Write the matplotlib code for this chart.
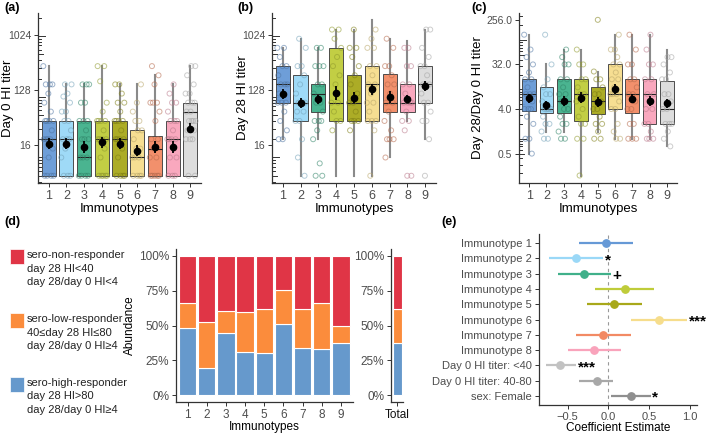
import numpy as np
import matplotlib
matplotlib.use("Agg")
import matplotlib.pyplot as plt
import matplotlib.transforms as mtransforms
from matplotlib.patches import Rectangle
from matplotlib.ticker import NullLocator, FixedLocator

plt.rcParams['font.family'] = ['Liberation Sans', 'DejaVu Sans']

W, H = 709, 437

# ---------------- data ----------------
immunotypes = [1, 2, 3, 4, 5, 6, 7, 8, 9]
group_colors = ["#6699d6", "#9ad8f7", "#40b08a", "#bfcc3a", "#a8a81a",
                "#f6dd8c", "#f28a64", "#f9a3bb", "#dcdcdc"]

# panel (a) Day 0 HI titer
day0_points = [
    [320, 160, 160, 160, 113, 80, 57, 40, 40, 40, 40, 28, 20, 20, 20, 20, 14, 10, 5, 5, 5, 5],
    [160, 160, 113, 101, 80, 57, 57, 40, 40, 28, 20, 20, 20, 14, 10, 5, 5, 5],
    [160, 160, 160, 80, 80, 40, 40, 40, 28, 20, 20, 20, 10, 10, 10, 5, 5, 5, 5],
    [320, 320, 180, 80, 57, 40, 40, 40, 40, 28, 20, 20, 20, 20, 14, 10, 5, 5, 5, 5, 5],
    [160, 160, 113, 80, 80, 57, 40, 40, 40, 40, 28, 20, 20, 20, 20, 14, 10, 5, 5, 5, 5],
    [160, 80, 57, 40, 40, 28, 28, 20, 14, 14, 10, 10, 10, 5, 5, 5, 5],
    [320, 226, 160, 80, 80, 80, 57, 40, 20, 20, 14, 10, 10, 5, 5, 5, 5, 5],
    [160, 113, 80, 80, 57, 40, 40, 40, 28, 20, 20, 20, 20, 14, 10, 10, 5, 5, 5],
    [320, 320, 226, 160, 113, 113, 80, 80, 80, 57, 57, 40, 40, 40, 40, 28, 28, 20, 20, 20, 5, 5],
]
day0_whislo = [5, 5, 5, 5, 5, 5, 5, 5, 5]
day0_q1 = [5, 5, 5, 5, 5, 5, 5, 5, 5]
day0_med = [20, 20, 10, 20, 20, 10, 14, 20, 57]
day0_q3 = [40, 40, 40, 40, 40, 28, 23, 40, 80]
day0_whishi = [320, 160, 160, 320, 160, 160, 226, 160, 320]
day0_mean = [17, 17, 15, 18, 17, 13, 15, 15, 30]
day0_lo = [14, 14, 12, 14.5, 14, 10.5, 12, 12, 25]
day0_hi = [21, 21, 19, 22, 21, 16, 19, 18.5, 37]

# panel (b) Day 28 HI titer
day28_points = [
    [640, 640, 453, 320, 320, 226, 160, 160, 160, 113, 113, 80, 80, 80, 57, 40, 28, 20, 20],
    [905, 640, 320, 320, 226, 160, 113, 80, 80, 80, 80, 57, 57, 40, 40, 20, 10, 5],
    [640, 640, 320, 320, 320, 160, 160, 113, 80, 80, 57, 40, 40, 40, 28, 20, 8, 5, 5],
    [1280, 1280, 905, 640, 453, 320, 226, 160, 80, 80, 57, 40, 40, 28],
    [1280, 640, 640, 453, 320, 226, 160, 113, 80, 80, 57, 40, 40, 40, 28],
    [1280, 905, 640, 640, 320, 320, 226, 160, 160, 113, 80, 80, 57, 40, 40, 40, 28, 5],
    [905, 640, 320, 320, 226, 160, 160, 113, 80, 80, 57, 40, 28, 20, 20, 20, 10],
    [640, 640, 320, 320, 160, 160, 113, 80, 80, 80, 80, 57, 40, 40, 28, 5, 5],
    [1280, 1280, 640, 453, 320, 320, 226, 160, 160, 160, 113, 80, 80, 57, 40, 40, 20, 5],
]
day28_whislo = [20, 5, 20, 5, 5, 5, 10, 40, 20]
day28_q1 = [80, 40, 57, 40, 40, 40, 57, 57, 80]
day28_med = [160, 80, 113, 80, 80, 160, 80, 80, 160]
day28_q3 = [320, 226, 160, 640, 226, 320, 240, 160, 320]
day28_whishi = [640, 905, 640, 1280, 1280, 1810, 905, 845, 1280]
day28_mean = [110, 80, 91, 114, 97, 133, 100, 92, 150]
day28_lo = [92, 66, 76, 88, 78, 108, 80, 78, 125]
day28_hi = [132, 97, 108, 150, 120, 164, 126, 108, 180]

# panel (c) Day 28 / Day 0 ratio
ratio_points = [
    [128, 64, 45, 32, 22, 16, 16, 11, 8, 8, 8, 5.7, 4, 4, 4, 2.8, 2, 1, 1, 0.5],
    [128, 32, 16, 11, 8, 8, 5.7, 4, 4, 4, 4, 2.8, 2, 2, 1.4, 1, 1],
    [64, 45, 32, 32, 16, 16, 11, 8, 8, 5.7, 4, 4, 2.8, 2, 2, 1.4, 1, 1],
    [64, 32, 32, 16, 16, 11, 8, 8, 5.7, 4, 2.8, 2, 2, 1, 1, 0.18],
    [256, 23, 16, 16, 11, 8, 8, 5.7, 4, 4, 2.8, 2, 2, 1.4, 1, 1],
    [128, 64, 64, 45, 32, 32, 22, 16, 16, 11, 8, 8, 8, 5.7, 4, 4, 2, 1.4, 1, 1],
    [128, 64, 32, 32, 16, 16, 11, 8, 8, 5.7, 4, 4, 2, 2, 1, 1, 1],
    [128, 64, 32, 32, 16, 16, 8, 8, 5.7, 4, 4, 2, 2, 1.4, 1, 1, 1],
    [45, 45, 32, 22, 16, 16, 8, 8, 5.7, 4, 4, 2, 2, 2, 1.4, 1, 0.7],
]
ratio_whislo = [0.5, 1.4, 1.4, 0.18, 1.4, 1, 1, 1, 0.7]
ratio_q1 = [3.6, 3.3, 3.3, 2.3, 3.1, 4, 3.4, 2, 2]
ratio_med = [8, 4, 5.7, 8, 5.7, 8, 8, 8, 4]
ratio_q3 = [16, 11.3, 16, 16, 11.4, 32, 16, 16, 14.8]
ratio_whishi = [128, 32, 64, 64, 23, 128, 128, 128, 64]
ratio_mean = [6.6, 4.8, 5.8, 6.8, 5.5, 10.2, 6.4, 5.9, 5.2]
ratio_lo = [5.3, 3.9, 4.7, 5.2, 4.4, 8.2, 5.2, 4.7, 4.2]
ratio_hi = [8.2, 5.9, 7.2, 8.9, 6.9, 12.8, 7.9, 7.4, 6.4]

# panel (d) stacked abundance (%)
high_resp = [47.9, 19.2, 44.8, 31.3, 30.4, 51.3, 33.7, 32.8, 37.6]
low_resp = [18.6, 33.6, 15.7, 28.4, 31.3, 24.3, 28.5, 33.7, 12.0]
non_resp = [33.5, 47.2, 39.5, 40.3, 38.3, 24.4, 37.8, 33.5, 50.4]
total_high, total_low, total_non = 37.2, 24.4, 38.4
resp_colors = {"non": "#e03546", "low": "#fb8c3c", "high": "#6699cc"}
legend_lines = {
    "non": ["sero-non-responder", "day 28 HI<40", "day 28/day 0 HI<4"],
    "low": ["sero-low-responder", "40≤day 28 HI≤80", "day 28/day 0 HI≥4"],
    "high": ["sero-high-responder", "day 28 HI>80", "day 28/day 0 HI≥4"],
}

# panel (e) coefficient estimates
coef_terms = ["Immunotype 1", "Immunotype 2", "Immunotype 3", "Immunotype 4",
              "Immunotype 5", "Immunotype 6", "Immunotype 7", "Immunotype 8",
              "Day 0 HI titer: <40", "Day 0 HI titer: 40-80", "sex: Female"]
coef_est = [-0.03, -0.40, -0.30, 0.20, 0.07, 0.62, -0.06, -0.17, -0.59, -0.14, 0.28]
coef_lo = [-0.36, -0.73, -0.62, -0.16, -0.26, 0.28, -0.39, -0.49, -0.76, -0.36, 0.04]
coef_hi = [0.30, -0.06, 0.03, 0.56, 0.42, 0.97, 0.28, 0.16, -0.39, 0.06, 0.52]
coef_sig = ["", "*", "+", "", "", "***", "", "", "***", "", "*"]
coef_colors = group_colors[:8] + ["#c2c2c2", "#a8a8a8", "#8f8f8f"]

# ---------------- helpers ----------------
AX_COL = "#333333"
TICK_COL = "#4d4d4d"


def rect(l, t, r, b):
    return [l / W, 1 - b / H, (r - l) / W, (b - t) / H]


def darker(c, f=0.7):
    from matplotlib.colors import to_rgb
    r, g, b = to_rgb(c)
    return (r * f, g * f, b * f)


def style_axes(ax, fs=8.5):
    for s in ["top", "right"]:
        ax.spines[s].set_visible(False)
    for s in ["left", "bottom"]:
        ax.spines[s].set_color(AX_COL)
        ax.spines[s].set_linewidth(0.9)
    ax.tick_params(length=3, width=0.7, color=AX_COL, labelcolor=TICK_COL,
                   labelsize=fs, pad=2)


def logticks(ax, lo, hi, axw):
    trans = mtransforms.blended_transform_factory(ax.transAxes, ax.transData)
    for k in range(-2, 5):
        for d in range(1, 10):
            v = d * 10.0 ** k
            if lo <= v <= hi:
                L = 7 if d == 1 else (5 if d == 5 else 3)
                ax.plot([0, L / axw], [v, v], transform=trans, color=AX_COL,
                        lw=0.7, clip_on=False, zorder=1)


def box_panel(rect_px, points, whislo, q1, med, q3, whishi, mean, lo, hi,
              ylim, yticks, yticklabels, ylabel, ylabel_right_px, tag, tag_x):
    ax = fig.add_axes(rect(*rect_px))
    axw = rect_px[2] - rect_px[0]
    stats = []
    for i in range(len(immunotypes)):
        stats.append(dict(med=med[i], q1=q1[i], q3=q3[i], whislo=whislo[i],
                          whishi=whishi[i], fliers=[]))
    bp = ax.bxp(stats, positions=immunotypes, widths=0.8, patch_artist=True,
                showcaps=False, showfliers=False,
                boxprops=dict(linewidth=0.7, edgecolor="#444444"),
                medianprops=dict(color="#222222", linewidth=0.8),
                whiskerprops=dict(color="#8a8a8a", linewidth=1.5))
    for patch, c in zip(bp["boxes"], group_colors):
        patch.set_facecolor(c)
        patch.set_alpha(0.95)
        patch.set_zorder(2)
    for w in bp["whiskers"]:
        w.set_zorder(1.5)
    for m in bp["medians"]:
        m.set_zorder(3)
    for gi, (g, pts) in enumerate(zip(immunotypes, points)):
        offs = [((j * 0.618034 + gi * 0.37) % 1 - 0.5) * 0.6 for j in range(len(pts))]
        xs = [g + o for o in offs]
        ax.scatter(xs, pts, s=13, facecolors="none",
                   edgecolors=[darker(group_colors[gi], 0.75)], linewidths=0.7,
                   alpha=0.55, zorder=4)
    mean_a = np.array(mean)
    ax.errorbar(immunotypes, mean_a, yerr=[mean_a - np.array(lo), np.array(hi) - mean_a],
                fmt="o", color="black", ms=4.5, elinewidth=1.3, capsize=0, zorder=5)
    ax.set_yscale("log", base=2)
    ax.set_ylim(*ylim)
    ax.set_xlim(0.4, 9.6)
    ax.yaxis.set_major_locator(FixedLocator(yticks))
    ax.yaxis.set_minor_locator(NullLocator())
    ax.set_yticklabels(yticklabels)
    ax.set_xticks(immunotypes)
    ax.set_xticklabels([str(g) for g in immunotypes])
    style_axes(ax, 9)
    ax.tick_params(axis="y", labelsize=7.5)
    ax.set_xlabel("Immunotypes", fontsize=9.5, labelpad=1)
    ax.set_ylabel(ylabel, fontsize=9.5)
    ax.yaxis.set_label_coords((ylabel_right_px - rect_px[0]) / axw, 0.5)
    logticks(ax, ylim[0], ylim[1], axw)
    fig.text(tag_x / W, 1 - 8 / H, tag, fontsize=9, fontweight="bold", va="center")
    return ax


fig = plt.figure(figsize=(W / 100, H / 100), dpi=100)

box_panel((38, 13, 201, 183), day0_points, day0_whislo, day0_q1, day0_med, day0_q3,
          day0_whishi, day0_mean, day0_lo, day0_hi, (3.8, 2400), [16, 128, 1024],
          ["16", "128", "1024"], "Day 0 HI titer", 14, "(a)", 4)
box_panel((272, 13, 436, 183), day28_points, day28_whislo, day28_q1, day28_med, day28_q3,
          day28_whishi, day28_mean, day28_lo, day28_hi, (3.8, 2400), [16, 128, 1024],
          ["16", "128", "1024"], "Day 28 HI titer", 249, "(b)", 237)
box_panel((519, 13, 677, 183), ratio_points, ratio_whislo, ratio_q1, ratio_med, ratio_q3,
          ratio_whishi, ratio_mean, ratio_lo, ratio_hi, (0.127, 352), [0.5, 4, 32, 256],
          ["0.5", "4.0", "32.0", "256.0"], "Day 28/Day 0 HI titer", 484, "(c)", 471)

# ---------------- panel (d) ----------------
fig.text(4 / W, 1 - 222 / H, "(d)", fontsize=9, fontweight="bold", va="center")
lax = fig.add_axes([0, 0, 1, 1], zorder=-1)
lax.set_xlim(0, W)
lax.set_ylim(H, 0)
lax.axis("off")
for key, ytop, ytexts in [("non", 249, [255, 269, 282]),
                          ("low", 313, [319, 333, 346]),
                          ("high", 377, [383, 396, 410])]:
    lax.add_patch(Rectangle((9.5, ytop), 14.5, 14.5, facecolor=resp_colors[key],
                            edgecolor="white", lw=0.5))
    for txt, yy in zip(legend_lines[key], ytexts):
        lax.text(27, yy, txt, fontsize=8, color="#222222", va="center", ha="left")

axd = fig.add_axes(rect(176, 249, 352.5, 402))
x = np.array(immunotypes)
hr = np.array(high_resp) / 100
lr = np.array(low_resp) / 100
nr = np.array(non_resp) / 100
axd.bar(x, hr, width=0.9, color=resp_colors["high"], edgecolor="white", lw=0.8)
axd.bar(x, lr, width=0.9, bottom=hr, color=resp_colors["low"], edgecolor="white", lw=0.8)
axd.bar(x, nr, width=0.9, bottom=hr + lr, color=resp_colors["non"], edgecolor="white", lw=0.8)
axd.set_xlim(0.4, 9.6)
axd.set_ylim(-0.05, 1.05)
axd.set_xticks(immunotypes)
axd.set_xticklabels([str(g) for g in immunotypes])
axd.set_yticks([0, 0.25, 0.5, 0.75, 1.0])
axd.set_yticklabels(["0%", "25%", "50%", "75%", "100%"])
style_axes(axd, 8.5)
axd.set_xlabel("Immunotypes", fontsize=8.5, labelpad=0)
axd.set_ylabel("Abundance", fontsize=8.5, labelpad=2)

axt = fig.add_axes(rect(391, 249, 403, 402))
axt.bar([1], [total_high / 100], width=0.9, color=resp_colors["high"], edgecolor="white", lw=0.8)
axt.bar([1], [total_low / 100], width=0.9, bottom=[total_high / 100],
        color=resp_colors["low"], edgecolor="white", lw=0.8)
axt.bar([1], [total_non / 100], width=0.9, bottom=[(total_high + total_low) / 100],
        color=resp_colors["non"], edgecolor="white", lw=0.8)
axt.set_xlim(0.4, 1.6)
axt.set_ylim(-0.05, 1.05)
axt.set_xticks([1])
axt.set_xticklabels(["Total"])
axt.set_yticks([0, 0.25, 0.5, 0.75, 1.0])
axt.set_yticklabels(["0%", "25%", "50%", "75%", "100%"])
style_axes(axt, 8.5)
axt.tick_params(axis="x", labelcolor="#111111")

# ---------------- panel (e) ----------------
fig.text(441 / W, 1 - 222 / H, "(e)", fontsize=9, fontweight="bold", va="center")
axe = fig.add_axes(rect(539, 234, 697, 405))
rows = np.arange(1, len(coef_terms) + 1)
axe.axvline(0, color="#999999", lw=0.8, ls=(0, (3, 3)), zorder=0)
for r, e, l, h, c, s in zip(rows, coef_est, coef_lo, coef_hi, coef_colors, coef_sig):
    axe.plot([l, h], [r, r], color=c, lw=1.6, solid_capstyle="butt", zorder=2)
    axe.scatter([e], [r], s=28, color=c, zorder=3)
    if s:
        axe.text(h + 0.02, r + 0.12, s, fontsize=11, fontweight="bold", color="black",
                 ha="left", va="center", clip_on=False)
axe.set_ylim(len(coef_terms) + 0.6, 0.4)
axe.set_xlim(-0.85, 1.09)
axe.set_yticks(rows)
axe.set_yticklabels(coef_terms)
axe.set_xticks([-0.5, 0.0, 0.5, 1.0])
axe.set_xticklabels(["\u22120.5", "0.0", "0.5", "1.0"])
style_axes(axe, 8)
axe.set_xlabel("Coefficient Estimate", fontsize=8.5, labelpad=0)

fig.savefig("out.png", dpi=100)
